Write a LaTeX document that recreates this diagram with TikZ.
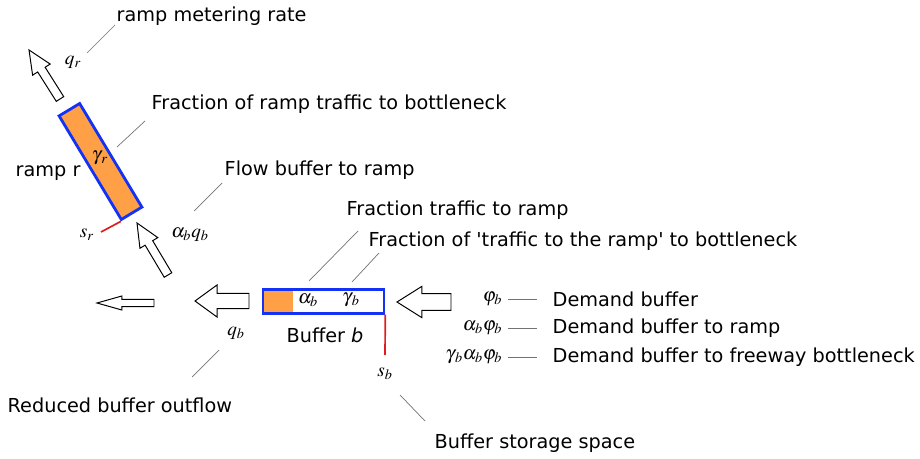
\documentclass[tikz,border=0pt]{standalone}
\usepackage{mathptmx}
\usepackage[no-math]{fontspec}
\setmainfont{DejaVu Sans}
\usetikzlibrary{calc,positioning}

\definecolor{rampfill}{RGB}{255,160,70}
\definecolor{rampblue}{RGB}{20,50,245}
\definecolor{storered}{RGB}{220,30,30}

% hollow flow arrow: tip, tail, head length, head half width, body half width
\newcommand{\flowarrow}[5]{%
\coordinate (fah) at ($(#1)!#3!(#2)$);
\draw[flow] (#1) -- ($(fah)!#4!90:(#2)$) -- ($(fah)!#5!90:(#2)$) -- ($(#2)!#5!-90:(fah)$)
  -- ($(#2)!#5!90:(fah)$) -- ($(fah)!#5!-90:(#2)$) -- ($(fah)!#4!-90:(#2)$) -- cycle;}

\begin{document}
\begin{tikzpicture}[x=0.025cm,y=-0.025cm,
  every node/.style={font=\fontsize{13.7}{16}\selectfont, inner sep=1pt},
  store/.style={draw=rampblue, line width=2pt, minimum width=3.02cm, minimum height=0.58cm, inner sep=0pt},
  flow/.style={draw=black, line width=0.7pt, fill=white, line join=miter},
  leader/.style={draw=black!55, line width=0.5pt},
  spill/.style={draw=storered, line width=1.2pt}]

\useasboundingbox (0,0) rectangle (920,459);

% buffer b
\node[store, path picture={\fill[rampfill] (path picture bounding box.north west) rectangle ([xshift=0.74cm]path picture bounding box.south west);}] (buf) at (323.5,301.5) {};
\node (alphab) at (308,300) {$\alpha_b$};
\node (gammab) at (351,300) {$\gamma_{\,b}$};
\node (bufname) at (325,335) {Buffer \textit{b}};
\coordinate (sbend) at (385,355);
\draw[spill] (buf.south east) -- (sbend);
\node (sb) at (385,374) {$s_b$};

% ramp r
\node[store, fill=rampfill, rotate=-59, minimum height=0.6cm] (ramp) at (100.5,161.5) {};
\node (gammar) at (100,158) {$\gamma_{\,r}$};
\node[anchor=west] (rampname) at (14,173) {ramp r};
\coordinate (srend) at (101,232);
\draw[spill] (ramp.south east) -- (srend);
\node (sr) at (87,235) {$s_r$};

% flows
\coordinate (intip) at (397,302); \coordinate (intail) at (451,302);
\flowarrow{intip}{intail}{0.62cm}{0.39cm}{0.21cm}
\coordinate (outtip) at (195,301); \coordinate (outtail) at (249,301);
\flowarrow{outtip}{outtail}{0.55cm}{0.4cm}{0.19cm}
\coordinate (redtip) at (97,303); \coordinate (redtail) at (154,303);
\flowarrow{redtip}{redtail}{0.62cm}{0.175cm}{0.09cm}
\coordinate (totip) at (137,223); \coordinate (totail) at (168,275);
\flowarrow{totip}{totail}{0.58cm}{0.26cm}{0.11cm}
\coordinate (mtip) at (29,50); \coordinate (mtail) at (60,99);
\flowarrow{mtip}{mtail}{0.58cm}{0.26cm}{0.11cm}

\node (qr) at (73,62) {$q_r$};
\node (abqb) at (190,235) {$\alpha_b q_b$};
\node (qb) at (236,333) {$q_b$};

% descriptions
\node[anchor=west] (metering) at (115,16) {ramp metering rate};
\node[anchor=west] (fracramp) at (150,104) {Fraction of ramp traffic to bottleneck};
\node[anchor=west] (flowbuf) at (223,170) {Flow buffer to ramp};
\node[anchor=west] (fractr) at (345,210) {Fraction traffic to ramp};
\node[anchor=west] (fracbn) at (367,241) {Fraction of \textquotesingle traffic to the ramp\textquotesingle{} to bottleneck};
\node[anchor=west] (reduced) at (6,405) {Reduced buffer outflow};
\node[anchor=west] (storage) at (433,443) {Buffer storage space};

\coordinate (m1) at (87,53); \coordinate (m2) at (115,25);
\coordinate (f1) at (117,147); \coordinate (f2) at (145,121);
\coordinate (b1) at (194,211); \coordinate (b2) at (222,183);
\coordinate (t1) at (309,281); \coordinate (t2) at (358,231);
\coordinate (n1) at (352,282); \coordinate (n2) at (379,253);
\coordinate (r1) at (219,350); \coordinate (r2) at (192,377);
\coordinate (s1) at (400,395); \coordinate (s2) at (425,421);
\draw[leader] (m1) -- (m2);
\draw[leader] (f1) -- (f2);
\draw[leader] (b1) -- (b2);
\draw[leader] (t1) -- (t2);
\draw[leader] (n1) -- (n2);
\draw[leader] (r1) -- (r2);
\draw[leader] (s1) -- (s2);

% demand
\node[anchor=east] (phib) at (504,299) {$\varphi_b$};
\node[anchor=east] (aphib) at (504,328) {$\alpha_b\varphi_b$};
\node[anchor=east] (gaphib) at (504,357) {$\gamma_{\,b}\alpha_b\varphi_b$};
\node[anchor=west] (dem) at (551,299) {Demand buffer};
\node[anchor=west] (demramp) at (551,328) {Demand buffer to ramp};
\node[anchor=west] (demfree) at (551,357) {Demand buffer to freeway bottleneck};
\draw[leader, shorten <=3pt, shorten >=10pt] (phib.east) -- (dem.west);
\draw[leader, shorten <=3pt, shorten >=10pt] (aphib.east) -- (demramp.west);
\draw[leader, shorten <=3pt, shorten >=10pt] (gaphib.east) -- (demfree.west);
\end{tikzpicture}
\end{document}
